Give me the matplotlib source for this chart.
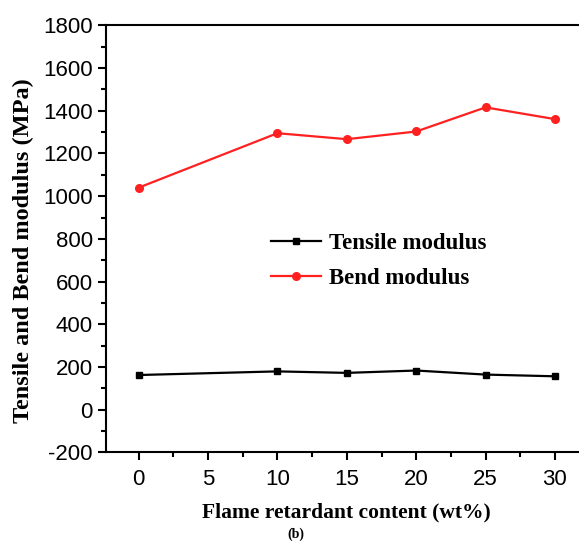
import matplotlib.pyplot as plt
from matplotlib.ticker import MultipleLocator

plt.rcParams['axes.unicode_minus'] = False

# flame retardant content (wt%)
content = [0, 10, 15, 20, 25, 30]
tensile = [162, 179, 172, 183, 164, 156]
bend = [1040, 1295, 1267, 1303, 1416, 1361]

fig = plt.figure(figsize=(5.79, 5.41), dpi=100)
# axes run past the right edge, like the cropped original
ax = fig.add_axes([0.183, 0.164, 0.832, 0.789])

ax.plot(content, tensile, color='black', marker='s', markersize=5, linewidth=1.6, label='Tensile modulus')
ax.plot(content, bend, color='#ff2020', marker='o', markersize=5.5, linewidth=1.6, label='Bend modulus')

ax.set_xlim(-2.36, 32.36)
ax.set_ylim(-200, 1800)
ax.xaxis.set_major_locator(MultipleLocator(5))
ax.xaxis.set_minor_locator(MultipleLocator(2.5))
ax.yaxis.set_major_locator(MultipleLocator(200))
ax.yaxis.set_minor_locator(MultipleLocator(100))
ax.tick_params(which='major', direction='out', length=6, width=1.5, labelsize=16)
ax.tick_params(axis='x', which='major', pad=6)
ax.tick_params(which='minor', direction='out', length=3.5, width=1.5)
for lab in ax.get_xticklabels() + ax.get_yticklabels():
    lab.set_fontfamily('Liberation Sans')
for s in ax.spines.values():
    s.set_linewidth(1.5)

serif = {'family': 'Liberation Serif', 'weight': 'bold'}
ax.set_xlabel('Flame retardant content (wt%)', fontdict=serif, fontsize=15.5, labelpad=9)
ax.set_ylabel('Tensile and Bend modulus (MPa)', fontdict=serif, fontsize=17.5)
ax.yaxis.set_label_coords(-0.150, 0.472)
fig.text(0.511, 0.005, '(b)', ha='center', family='Liberation Serif', weight='bold', fontsize=10)

ax.legend(loc='center left', bbox_to_anchor=(0.299, 0.448), frameon=False,
          prop={'family': 'Liberation Serif', 'weight': 'bold', 'size': 16.5},
          handlelength=2.2, handletextpad=0.35, labelspacing=0.58)

fig.savefig('out.png', dpi=100)
